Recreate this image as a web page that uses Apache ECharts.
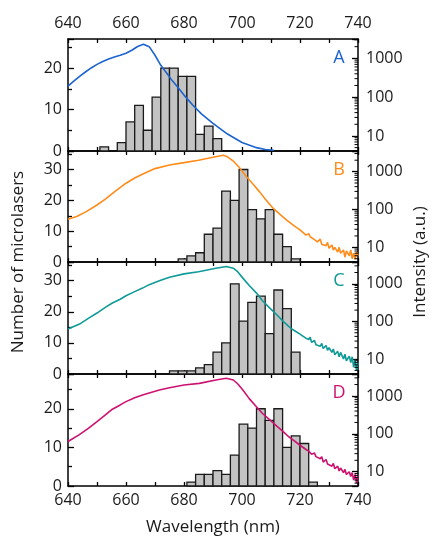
<!DOCTYPE html>
<html><head><meta charset="utf-8">
<script src="https://cdn.jsdelivr.net/npm/echarts@6/dist/echarts.min.js"></script>
<style>html,body{margin:0;padding:0;background:#fff}#c{width:435px;height:544px}</style>
</head><body><div id="c"></div>
<script>
// ---- data ----
const panelLabels = ['A', 'B', 'C', 'D'];
const binWidth = 3;
const binStartA = [651, 657, 660, 663, 666, 669, 672, 675, 678, 681, 684, 687, 690];
const countA    = [1,   2,   7,   11,  5,   13,  20,  20,  18,  18,  4,   6,   3];
const binStartB = [678, 681, 684, 687, 690, 693, 696, 699, 702, 705, 708, 711, 714, 717];
const countB    = [1,   2,   3,   9,   11,  23,  20,  30,  17,  14,  17,  9,   5,   1];
const binStartC = [675, 678, 681, 684, 687, 690, 693, 696, 699, 702, 705, 708, 711, 714, 717];
const countC    = [1,   1,   1,   2,   3,   7,   10,  29,  17,  23,  25,  13,  27,  21,  7];
const binStartD = [681, 684, 687, 690, 693, 696, 699, 702, 705, 708, 711, 714, 717, 720, 723];
const countD    = [1,   3,   3,   4,   3,   8,   16,  15,  20,  17,  20,  10,  13,  11,  1];

const wlA  = [640, 642, 644, 646, 648, 650, 652, 654, 656, 658, 660, 662, 664, 666, 668, 670, 672, 674, 676, 678, 680, 683, 686, 690, 695, 700, 705, 708, 711];
const intA = [193, 260, 345, 445, 565, 700, 830, 960, 1080, 1200, 1350, 1620, 2020, 2300, 2000, 1200, 660, 417, 263, 174, 113, 63, 37, 21, 11.2, 6.8, 5.0, 4.5, 4.3];

const wlB  = [640, 643, 646, 650, 653, 656, 660, 663, 666, 670, 675, 680, 685, 690, 693.5, 695, 697, 699, 701.5, 704, 706, 708, 710.7, 713, 715.3, 718, 720,
              721, 721.5, 722, 723, 723.5, 724, 725, 725.5, 726, 727, 727.5, 728, 729, 729.5, 730, 731, 731.5, 732, 733, 733.5, 734, 735, 735.5, 736, 737, 737.5, 738, 738.5, 739, 739.5, 740];
const intB = [55, 65, 85, 131, 190, 290, 493, 680, 880, 1200, 1500, 1730, 2000, 2400, 2700, 2450, 1900, 1300, 740, 450, 296, 190, 108, 75, 53, 37, 29,
              25, 28, 21, 23, 19, 20, 16, 18, 14, 16.5, 12, 13, 11, 13.5, 9.5, 11.5, 8.5, 10, 7.5, 10, 7, 8.5, 5.5, 8, 6, 8.5, 5, 7, 4.8, 7.5, 6];

const wlC  = [640, 644, 647, 650, 653, 655.3, 658, 660, 663, 665.7, 668, 671.5, 675, 680, 685, 691, 694.6, 697, 698.5, 700.3, 702.5, 705, 707, 709.6, 712, 714.2, 716, 717.6, 720, 722,
              723, 723.5, 724, 725, 725.5, 726, 727, 727.5, 728, 729, 729.5, 730, 731, 731.5, 732, 733, 733.5, 734, 735, 735.5, 736, 737, 737.5, 738, 738.5, 739, 739.5, 740];
const intC = [63, 85, 120, 167, 240, 308, 390, 481, 620, 769, 950, 1200, 1500, 1840, 2100, 2600, 2880, 2600, 2100, 1416, 900, 566, 360, 226, 150, 100, 75, 60, 46, 36,
              33, 38, 28, 31, 24, 27, 22, 26, 19, 23, 17, 20, 15, 18.5, 13, 16, 11.5, 15, 10, 13.5, 9, 12, 8, 11.5, 6, 9.5, 5, 8];

const wlD  = [640, 643.8, 647, 650, 653, 655.3, 658, 660, 663, 665.7, 668, 671.5, 675, 680, 685.3, 691, 694.6, 697, 698.5, 700.3, 702.5, 704.9, 707, 709.6, 712, 714.2, 716, 717.6, 720, 722.2,
              723, 723.5, 724, 725, 725.5, 726, 727, 727.5, 728, 729, 729.5, 730, 731, 731.5, 732, 733, 733.5, 734, 735, 735.5, 736, 737, 737.5, 738, 738.5, 739, 739.5, 740];
const intD = [63, 94, 140, 211, 320, 447, 580, 708, 900, 1062, 1200, 1438, 1650, 1946, 2150, 2640, 2920, 2640, 2100, 1440, 850, 524, 350, 233, 160, 115, 85, 69.5, 50, 38,
              35, 39, 29, 31, 25, 28, 22, 25, 18, 21, 16, 18, 14, 16.5, 12, 14, 10.5, 12.5, 9.5, 11.5, 8.5, 10, 7.5, 9.5, 6, 8.5, 5, 8];

const logMinorTicks = [2, 3, 4, 5, 6, 7, 8, 9, 20, 30, 40, 50, 60, 70, 80, 90, 200, 300, 400, 500, 600, 700, 800, 900, 2000, 3000];
const countMax = [27, 36, 36, 29];
const logMin = [4.1, 4.1, 4, 4.2];
const logMax = [3150, 3500, 3800, 3800];

// ---- layout / style ----
const colors = ['#1b63cf', '#ff8c1a', '#0f9a98', '#cc1170'];
const gridTop = [39, 151, 262, 374];
const gridH = [112, 111, 112, 112];
const FONT = 'Open Sans';
const binStarts = [binStartA, binStartB, binStartC, binStartD];
const counts = [countA, countB, countC, countD];
const wls = [wlA, wlB, wlC, wlD];
const ints = [intA, intB, intC, intD];

const grid = [], xAxis = [], yAxis = [], series = [], graphic = [];
const axisLine = { show: true, lineStyle: { color: '#000', width: 1.5 } };
const lbl = { color: '#1a1a1a', fontSize: 16, fontFamily: FONT };

for (let i = 0; i < 4; i++) {
  grid.push({ left: 68, right: 77, top: gridTop[i], height: gridH[i] });
  ['bottom', 'top'].forEach(pos => {
    xAxis.push({
      gridIndex: i, type: 'value', min: 640, max: 740, interval: 20, position: pos,
      axisLine, splitLine: { show: false },
      axisTick: { show: true, inside: true, length: 4, lineStyle: { color: '#000', width: 1.3 } },
      minorTick: { show: true, splitNumber: 2, length: 4, lineStyle: { color: '#000', width: 1.3 } },
      axisLabel: Object.assign({ show: (pos === 'bottom' && i === 3) || (pos === 'top' && i === 0), margin: pos === 'top' ? 8 : 6 }, lbl)
    });
  });
  yAxis.push({
    gridIndex: i, type: 'value', min: 0, max: countMax[i], interval: 10, position: 'left',
    axisLine, splitLine: { show: false },
    axisTick: { show: true, inside: true, length: 6, lineStyle: { color: '#000', width: 1.3 } },
    minorTick: { show: true, splitNumber: 2, length: 4, lineStyle: { color: '#000', width: 1.3 } },
    axisLabel: Object.assign({ margin: 6, formatter: v => (v % 10 === 0 ? String(v) : '') }, lbl)
  });
  yAxis.push({
    gridIndex: i, type: 'log', logBase: 10, min: logMin[i], max: logMax[i], position: 'right',
    axisLine, splitLine: { show: false },
    axisTick: { show: true, inside: true, length: 6, lineStyle: { color: '#000', width: 1.3 } },
    minorTick: { show: false },
    axisLabel: Object.assign({ margin: 8, formatter: v => {
      const l = Math.log10(v);
      return Math.abs(l - Math.round(l)) < 1e-6 ? String(Math.round(v)) : '';
    } }, lbl)
  });
  series.push({
    type: 'custom', xAxisIndex: 2 * i, yAxisIndex: 2 * i, z: 2,
    data: binStarts[i].map((s, k) => [s, s + binWidth, counts[i][k]]),
    encode: { x: [0, 1], y: 2 },
    renderItem: (params, api) => {
      const p0 = api.coord([api.value(0), api.value(2)]);
      const p1 = api.coord([api.value(1), 0]);
      return { type: 'rect', shape: { x: p0[0], y: p0[1], width: p1[0] - p0[0], height: p1[1] - p0[1] },
        style: { fill: '#c3c3c3', stroke: '#1a1a1a', lineWidth: 1.3 } };
    }
  });
  series.push({
    type: 'line', xAxisIndex: 2 * i, yAxisIndex: 2 * i + 1, z: 3,
    data: wls[i].map((w, k) => [w, ints[i][k]]),
    showSymbol: false, symbol: 'none', clip: true,
    lineStyle: { color: colors[i], width: 1.6 }
  });
  // log-axis minor ticks (2..9 of each decade) on the right edge
  const mn = logMin[i], mx = logMax[i];
  series.push({
    type: 'custom', xAxisIndex: 2 * i, yAxisIndex: 2 * i + 1, z: 4, silent: true,
    data: logMinorTicks.filter(v => v > mn && v < mx).map(v => [740, v]),
    encode: { x: 0, y: 1 },
    renderItem: (params, api) => {
      const p = api.coord([api.value(0), api.value(1)]);
      return { type: 'line', shape: { x1: p[0] - 3.5, y1: p[1], x2: p[0], y2: p[1] },
        style: { stroke: '#000', lineWidth: 1 } };
    }
  });
  graphic.push({ type: 'text', x: 339, y: gridTop[i] + 19,
    style: { text: panelLabels[i], fill: colors[i], fontSize: 18, fontFamily: FONT, align: 'center', verticalAlign: 'middle' } });
}
graphic.push({ type: 'text', x: 18, y: 262, rotation: Math.PI / 2,
  style: { text: 'Number of microlasers', fill: '#1a1a1a', fontSize: 17, fontFamily: FONT, align: 'center', verticalAlign: 'middle' } });
graphic.push({ type: 'text', x: 420, y: 262, rotation: Math.PI / 2,
  style: { text: 'Intensity (a.u.)', fill: '#1a1a1a', fontSize: 17, fontFamily: FONT, align: 'center', verticalAlign: 'middle' } });
graphic.push({ type: 'text', x: 213, y: 527,
  style: { text: 'Wavelength (nm)', fill: '#1a1a1a', fontSize: 17, fontFamily: FONT, align: 'center', verticalAlign: 'middle' } });

const chart = echarts.init(document.getElementById('c'), null, { renderer: 'canvas' });
chart.setOption({ animation: false, backgroundColor: '#fff', grid, xAxis, yAxis, series, graphic });
</script></body></html>
